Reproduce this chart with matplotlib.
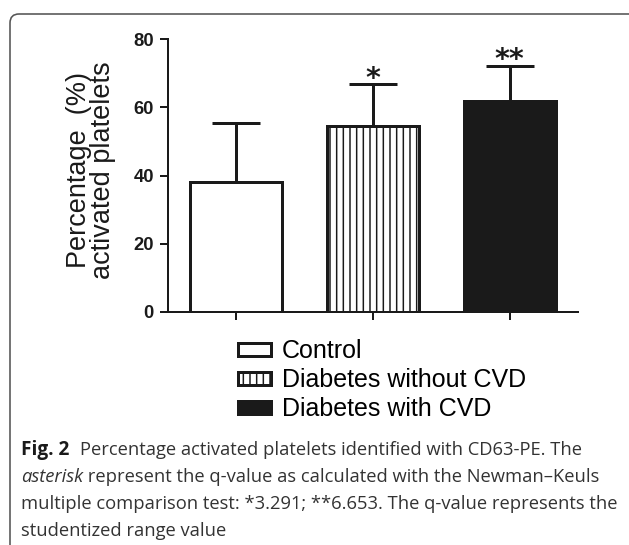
import matplotlib
matplotlib.use('Agg')
import matplotlib.pyplot as plt
from matplotlib.patches import FancyBboxPatch, Patch
from matplotlib.transforms import IdentityTransform
import numpy as np

categories = ['Control', 'Diabetes without CVD', 'Diabetes with CVD']
means = [38.0, 54.5, 61.7]
errors = [17.3, 12.2, 10.5]
significance = ['', '*', '**']
yticks = [0, 20, 40, 60, 80]
ylabel = 'Percentage  (%)\nactivated platelets'
caption_bold = 'Fig. 2'
caption_line1 = 'Percentage activated platelets identified with CD63-PE. The'
caption_italic = 'asterisk'
caption_line2 = ' represent the q-value as calculated with the Newman\u2013Keuls'
caption_line3 = 'multiple comparison test: *3.291; **6.653. The q-value represents the'
caption_line4 = 'studentized range value'

W, H = 629, 545
DPI = 120
PX = 72.0 / DPI  # points per pixel

fig = plt.figure(figsize=(W / DPI, H / DPI), dpi=DPI)
fig.patch.set_facecolor('white')

ax = fig.add_axes([168 / W, 1 - 312 / H, (578 - 168) / W, (312 - 39) / H])
x = np.arange(len(categories))
faces = ['white', 'white', '#1a1a1a']
hatches = [None, '|||', None]
plt.rcParams['hatch.linewidth'] = 0.9
bars = ax.bar(x, means, width=0.675, color=faces, edgecolor='#1a1a1a',
              linewidth=3 * PX, zorder=2)
for b, h in zip(bars, hatches):
    if h:
        b.set_hatch(h)
ax.errorbar(x, means, yerr=[np.zeros(len(means)), errors], fmt='none',
            ecolor='#1a1a1a', elinewidth=3 * PX, capsize=24 * PX,
            capthick=3 * PX, zorder=3)
for xi, m, e, s in zip(x, means, errors, significance):
    if s:
        ax.text(xi, m + e - 0.8, s, ha='center', va='baseline',
                fontsize=17, family='DejaVu Sans', fontweight='bold',
                color='#1a1a1a')

ax.set_xlim(-0.5, 2.5)
ax.set_ylim(0, 80)
ax.set_yticks(yticks)
ax.set_xticks(x)
ax.set_xticklabels([''] * len(x))
for sp in ['top', 'right']:
    ax.spines[sp].set_visible(False)
for sp in ['left', 'bottom']:
    ax.spines[sp].set_linewidth(2 * PX)
    ax.spines[sp].set_color('#1a1a1a')
ax.tick_params(direction='out', length=8 * PX, width=2 * PX, color='#1a1a1a',
               pad=6 * PX)
for lbl in ax.get_yticklabels():
    lbl.set_fontfamily(['Liberation Sans Narrow', 'Liberation Sans'])
    lbl.set_fontweight('bold')
    lbl.set_fontsize(11)
    lbl.set_color('#1a1a1a')

fig.text(91 / W, 1 - 170 / H, ylabel, rotation=90, ha='center', va='center',
         multialignment='center', fontsize=16.3, family='Liberation Sans',
         color='#1a1a1a', linespacing=0.92)

handles = [Patch(facecolor=f, edgecolor='#1a1a1a', hatch=h, linewidth=3 * PX)
           for f, h in zip(faces, hatches)]
fig.legend(handles, categories, loc='upper left',
           bbox_to_anchor=(238 / W, 1 - 339 / H), frameon=False,
           prop={'family': 'Liberation Sans', 'size': 15},
           handlelength=1.3, handleheight=0.42, handletextpad=0.45,
           labelspacing=0.2, borderpad=0, borderaxespad=0)

# Rounded frame
frame = FancyBboxPatch((10, -20), 640, (H - 14) + 20,
                       boxstyle='round,pad=0,rounding_size=9',
                       transform=IdentityTransform(), facecolor='none',
                       edgecolor='#555555', linewidth=1.6 * PX)
fig.add_artist(frame)

# Caption
cap_size = 11.0
cap_color = '#333333'
renderer = fig.canvas.get_renderer()
base = [455, 482, 509, 536]
t = fig.text(21, H - base[0], caption_bold, transform=IdentityTransform(),
             family='Open Sans', fontweight='bold', fontsize=cap_size + 0.4,
             color='#1a1a1a', va='baseline')
bb = t.get_window_extent(renderer)
fig.text(bb.x1 + 11, H - base[0], caption_line1, transform=IdentityTransform(),
         family='Open Sans', fontsize=cap_size, color=cap_color, va='baseline')
t2 = fig.text(21, H - base[1], caption_italic, transform=IdentityTransform(),
              family='Open Sans', style='italic', fontsize=cap_size,
              color=cap_color, va='baseline')
bb2 = t2.get_window_extent(renderer)
fig.text(bb2.x1, H - base[1], caption_line2, transform=IdentityTransform(),
         family='Open Sans', fontsize=cap_size, color=cap_color, va='baseline')
fig.text(21, H - base[2], caption_line3, transform=IdentityTransform(),
         family='Open Sans', fontsize=cap_size, color=cap_color, va='baseline')
fig.text(21, H - base[3], caption_line4, transform=IdentityTransform(),
         family='Open Sans', fontsize=cap_size, color=cap_color, va='baseline')

fig.savefig('out.png', dpi=DPI)
